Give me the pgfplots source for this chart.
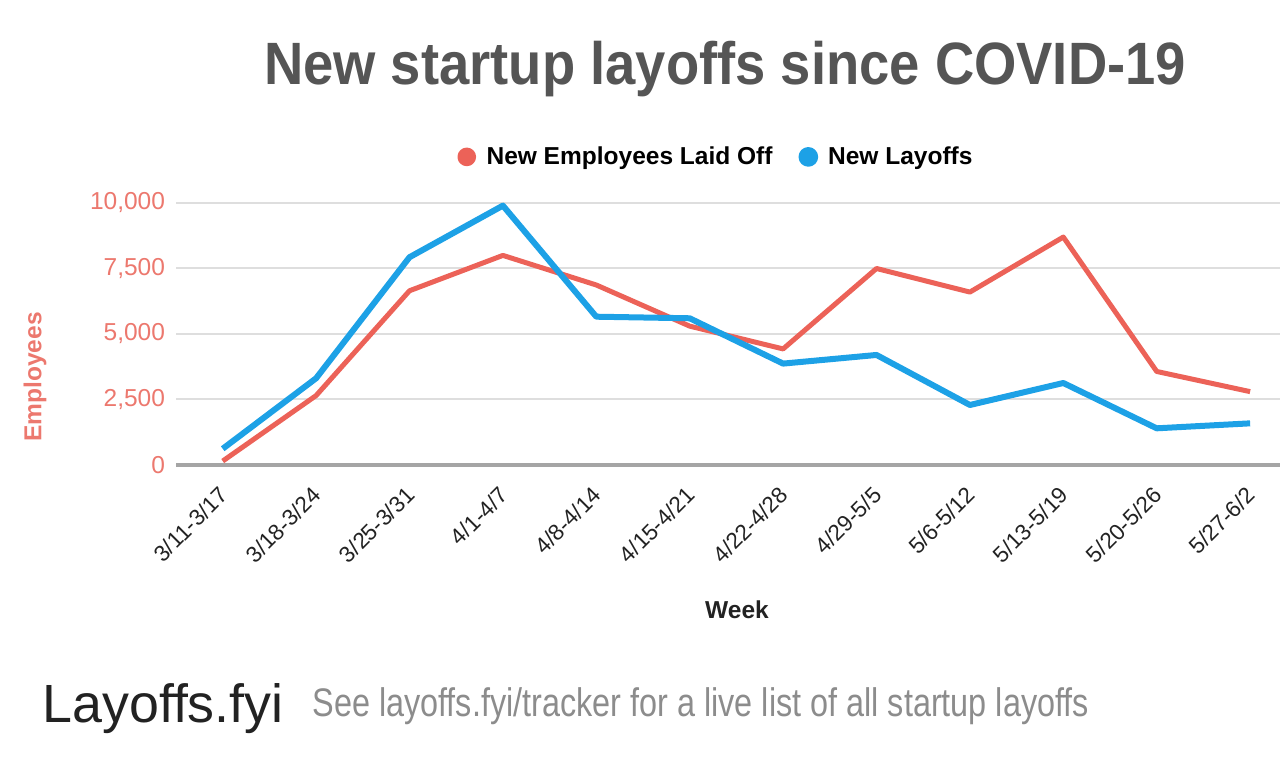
\documentclass[border=0pt]{standalone}
\usepackage{fontspec}
\setmainfont{Liberation Sans}
\newfontfamily\condfont[FakeStretch=0.91]{Liberation Sans}
\newfontfamily\narrowfont[FakeStretch=0.813]{Liberation Sans}
\usepackage{pgfplots}
\pgfplotsset{compat=1.18}
\definecolor{redline}{RGB}{236,98,88}
\definecolor{blueline}{RGB}{29,161,230}
\definecolor{redtick}{RGB}{236,120,110}
\definecolor{gridgray}{RGB}{222,222,222}
\definecolor{axisgray}{RGB}{165,165,165}
\definecolor{titlegray}{RGB}{85,85,85}
\definecolor{footgray}{RGB}{140,140,140}
\definecolor{darktext}{RGB}{34,34,34}
\begin{document}
\begin{tikzpicture}
\path[use as bounding box] (0,0) rectangle (640bp,380bp);
\begin{axis}[
  at={(88bp,147.5bp)}, anchor=south west,
  scale only axis, width=552bp, height=131bp,
  xmin=-0.5, xmax=11.32, ymin=0, ymax=10000,
  clip=false,
  axis line style={draw=none},
  ytick={0,2500,5000,7500,10000},
  scaled y ticks=false,
  yticklabel={\pgfmathprintnumber[fixed,precision=0,1000 sep={,}]{\tick}},
  ymajorgrids, grid style={gridgray, line width=1bp},
  extra y ticks={0}, extra y tick labels={},
  extra y tick style={grid style={axisgray, line width=1.6bp}},
  major tick length=0,
  yticklabel style={font=\fontsize{12.3}{14}\selectfont, text=redtick, xshift=-2bp},
  /pgf/number format/assume math mode=true,
  xtick={0,...,11},
  xticklabels={3/11-3/17,3/18-3/24,3/25-3/31,4/1-4/7,4/8-4/14,4/15-4/21,4/22-4/28,4/29-5/5,5/6-5/12,5/13-5/19,5/20-5/26,5/27-6/2},
  xticklabel style={xshift=-2.5bp, yshift=-8.5bp, rotate=45, anchor=north east, font=\fontsize{11.3}{13}\selectfont, text=darktext, inner sep=1bp},
  legend style={at={(0.49,1.176)}, anchor=center, draw=none, fill=none,
    legend columns=2, font=\bfseries\fontsize{12.3}{14}\selectfont,
    /tikz/every even column/.append style={column sep=11bp}},
  legend image code/.code={\fill[#1] (0bp,0bp) circle (3.4bp); \path[draw=none, fill=none] (0bp,0bp) -- (7.9bp,0bp);},
]
\addplot[color=redline, line width=2.5bp, line join=round, mark=none]
  coordinates {(0,150) (1,2650) (2,6650) (3,8000) (4,6870) (5,5300) (6,4430) (7,7500) (8,6600) (9,8700) (10,3570) (11,2800)};
\addlegendentry{New Employees Laid Off}
\addplot[color=blueline, line width=3bp, line join=round, mark=none]
  coordinates {(0,620) (1,3310) (2,7930) (3,9900) (4,5660) (5,5600) (6,3870) (7,4200) (8,2290) (9,3130) (10,1400) (11,1590)};
\addlegendentry{New Layoffs}
\end{axis}
\node[font=\bfseries\fontsize{12.3}{14}\selectfont, text=darktext] at (368.5bp,75bp) {Week};
\node[rotate=90, font=\bfseries\fontsize{12.3}{14}\selectfont, text=redtick] at (17.5bp,191.5bp) {Employees};
\node[anchor=base, inner sep=0, font=\condfont\bfseries\fontsize{30}{36}\selectfont, text=titlegray] at (362.5bp,337.5bp) {New startup layoffs since COVID-19};
\node[anchor=base west, inner sep=0, font=\fontsize{27}{32}\selectfont, text=darktext] at (21bp,19bp) {Layoffs.fyi};
\node[anchor=base west, inner sep=0, font=\narrowfont\fontsize{20}{24}\selectfont, text=footgray] at (156bp,22bp) {See layoffs.fyi/tracker for a live list of all startup layoffs};
\end{tikzpicture}
\end{document}
